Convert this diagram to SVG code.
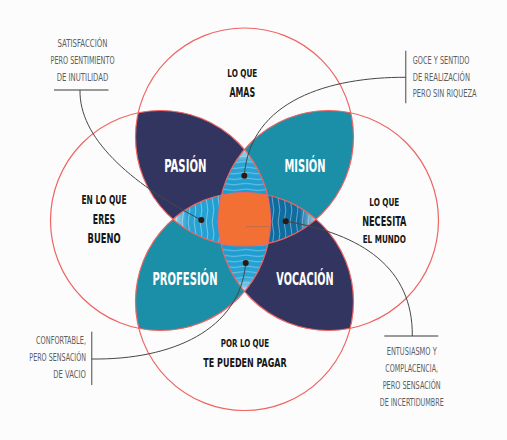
<svg xmlns="http://www.w3.org/2000/svg" width="507" height="440" viewBox="0 0 507 440">
<style>
.ann{font-family:"DejaVu Sans Condensed","Liberation Sans Narrow","Liberation Sans",sans-serif;font-size:10.5px;fill:#5e5e5e;}
.lbl{font-family:"DejaVu Sans Condensed","Liberation Sans Narrow","Liberation Sans",sans-serif;font-weight:bold;fill:#161616;}
.pet{font-family:"DejaVu Sans Condensed","Liberation Sans Narrow","Liberation Sans",sans-serif;font-weight:bold;font-size:17px;fill:#ffffff;}
.ring{fill:none;stroke:#ef6462;stroke-width:1.2;}
.con{fill:none;stroke:#474747;stroke-width:1;}
.bar{fill:none;stroke:#7a7a7a;stroke-width:1.4;}
.dot{fill:#2b1a12;}
</style>
<defs>
<clipPath id="cT"><circle cx="244.5" cy="137" r="109"/></clipPath>
<clipPath id="cB"><circle cx="244.5" cy="301.5" r="109"/></clipPath>
<clipPath id="cL"><circle cx="160.5" cy="220.5" r="110"/></clipPath>
<clipPath id="cR"><circle cx="328.5" cy="220.5" r="110"/></clipPath>
<linearGradient id="gV" gradientUnits="userSpaceOnUse" x1="0" y1="149" x2="0" y2="292">
<stop offset="0" stop-color="#b4def0"/><stop offset="0.1" stop-color="#2ba5d6"/><stop offset="0.3" stop-color="#1d9ccf"/><stop offset="0.7" stop-color="#1d9ccf"/><stop offset="0.9" stop-color="#2ba5d6"/><stop offset="1" stop-color="#b4def0"/>
</linearGradient>
<linearGradient id="gH" gradientUnits="userSpaceOnUse" x1="173" y1="0" x2="316" y2="0">
<stop offset="0" stop-color="#b0dcef"/><stop offset="0.1" stop-color="#2aa4d5"/><stop offset="0.4" stop-color="#1e9ccf"/><stop offset="0.6" stop-color="#0f6c9f"/><stop offset="0.88" stop-color="#0f6c9f"/><stop offset="1" stop-color="#9fd0e8"/>
</linearGradient>
<pattern id="wH" patternUnits="userSpaceOnUse" width="24" height="5.5">
<path d="M0,2.7 Q6,1.2 12,2.7 T24,2.7" fill="none" stroke="#ffffff" stroke-opacity="0.55" stroke-width="0.7"/>
</pattern>
<pattern id="wV" patternUnits="userSpaceOnUse" width="6" height="24">
<path d="M3,0 Q1.3,6 3,12 T3,24" fill="none" stroke="#ffffff" stroke-opacity="0.55" stroke-width="0.7"/>
</pattern>
</defs>
<rect width="507" height="440" fill="#fcfcfc"/>

<g id="petal-pasion" clip-path="url(#cT)"><circle cx="160.5" cy="220.5" r="110" fill="#313560"/></g>
<g id="petal-mision" clip-path="url(#cT)"><circle cx="328.5" cy="220.5" r="110" fill="#1a8fa7"/></g>
<g id="petal-profesion" clip-path="url(#cB)"><circle cx="160.5" cy="220.5" r="110" fill="#1a8fa7"/></g>
<g id="petal-vocacion" clip-path="url(#cB)"><circle cx="328.5" cy="220.5" r="110" fill="#313560"/></g>

<g id="lens-vertical" clip-path="url(#cL)"><g clip-path="url(#cR)">
<rect x="200" y="140" width="90" height="160" fill="url(#gV)"/>
<rect x="200" y="140" width="90" height="160" fill="url(#wH)"/>
</g></g>
<g id="lens-horizontal" clip-path="url(#cT)"><g clip-path="url(#cB)">
<rect x="165" y="180" width="160" height="80" fill="url(#gH)"/>
<rect x="165" y="180" width="160" height="80" fill="url(#wV)"/>
</g></g>
<g id="center" clip-path="url(#cT)"><g clip-path="url(#cB)"><g clip-path="url(#cL)"><g clip-path="url(#cR)">
<rect x="200" y="180" width="90" height="80" fill="#f37035"/>
</g></g></g></g>

<g id="circles">
<circle class="ring" cx="244.5" cy="137" r="109"/>
<circle class="ring" cx="244.5" cy="301.5" r="109"/>
<circle class="ring" cx="160.5" cy="220.5" r="110"/>
<circle class="ring" cx="328.5" cy="220.5" r="110"/>
</g>

<g id="connectors">
<line x1="246" y1="226.7" x2="269" y2="226.7" stroke="#8c6a5a" stroke-width="0.8" stroke-opacity="0.7"/>
<line class="bar" x1="54" y1="90" x2="108.5" y2="90"/>
<path class="con" d="M80,90 C79,137 128,182 201.3,220"/>
<line class="bar" x1="405.7" y1="50.7" x2="405.7" y2="103.3"/>
<path class="con" d="M405.7,77.3 C330,77 250,100 244.3,175.7"/>
<line class="bar" x1="91.7" y1="331.7" x2="91.7" y2="385"/>
<path class="con" d="M91.7,359 C172,360 240,330 245.7,263"/>
<line class="bar" x1="384.3" y1="336" x2="438.3" y2="336"/>
<path class="con" d="M412.3,336 C413,268 362,234 285.7,221.3"/>
</g>

<g id="dots">
<circle class="dot" cx="244.3" cy="175.7" r="3"/>
<circle class="dot" cx="201.3" cy="220" r="3"/>
<circle class="dot" cx="285.7" cy="221.3" r="3"/>
<circle class="dot" cx="245.7" cy="263" r="3"/>
</g>

<g id="node-pasion"><text class="pet" x="185.3" y="171.5" text-anchor="middle" textLength="42.3" lengthAdjust="spacingAndGlyphs">PASIÓN</text></g>
<g id="node-mision"><text class="pet" x="305" y="171.5" text-anchor="middle" textLength="41" lengthAdjust="spacingAndGlyphs">MISIÓN</text></g>
<g id="node-profesion"><text class="pet" x="185" y="284.5" text-anchor="middle" textLength="65" lengthAdjust="spacingAndGlyphs">PROFESIÓN</text></g>
<g id="node-vocacion"><text class="pet" x="305" y="284.5" text-anchor="middle" textLength="57.3" lengthAdjust="spacingAndGlyphs">VOCACIÓN</text></g>

<g id="node-amas">
<text class="lbl" x="242.3" y="76.7" font-size="11" text-anchor="middle" textLength="30" lengthAdjust="spacingAndGlyphs">LO QUE</text>
<text class="lbl" x="242.3" y="96.7" font-size="14" text-anchor="middle" textLength="25.7" lengthAdjust="spacingAndGlyphs">AMAS</text>
</g>
<g id="node-bueno">
<text class="lbl" x="104" y="203.5" font-size="11.5" text-anchor="middle" textLength="45" lengthAdjust="spacingAndGlyphs">EN LO QUE</text>
<text class="lbl" x="104" y="224" font-size="13.5" text-anchor="middle" textLength="22.3" lengthAdjust="spacingAndGlyphs">ERES</text>
<text class="lbl" x="104" y="243.3" font-size="13.5" text-anchor="middle" textLength="33" lengthAdjust="spacingAndGlyphs">BUENO</text>
</g>
<g id="node-mundo">
<text class="lbl" x="384.3" y="206" font-size="11" text-anchor="middle" textLength="30" lengthAdjust="spacingAndGlyphs">LO QUE</text>
<text class="lbl" x="384.3" y="226.3" font-size="14" text-anchor="middle" textLength="44.3" lengthAdjust="spacingAndGlyphs">NECESITA</text>
<text class="lbl" x="384.3" y="243" font-size="11" text-anchor="middle" textLength="43.3" lengthAdjust="spacingAndGlyphs">EL MUNDO</text>
</g>
<g id="node-pagar">
<text class="lbl" x="245" y="346.7" font-size="11" text-anchor="middle" textLength="48.3" lengthAdjust="spacingAndGlyphs">POR LO QUE</text>
<text class="lbl" x="245" y="366.8" font-size="12.5" text-anchor="middle" textLength="83.3" lengthAdjust="spacingAndGlyphs">TE PUEDEN PAGAR</text>
</g>

<g id="note-top-left">
<text class="ann" x="82.5" y="47.3" text-anchor="middle" textLength="50" lengthAdjust="spacingAndGlyphs">SATISFACCIÓN</text>
<text class="ann" x="82.5" y="64" text-anchor="middle" textLength="64" lengthAdjust="spacingAndGlyphs">PERO SENTIMIENTO</text>
<text class="ann" x="82.5" y="80.7" text-anchor="middle" textLength="51.7" lengthAdjust="spacingAndGlyphs">DE INUTILIDAD</text>
</g>
<g id="note-top-right">
<text class="ann" x="412.7" y="64" textLength="56.7" lengthAdjust="spacingAndGlyphs">GOCE Y SENTIDO</text>
<text class="ann" x="412.7" y="80.7" textLength="57.3" lengthAdjust="spacingAndGlyphs">DE REALIZACIÓN</text>
<text class="ann" x="412.7" y="97.3" textLength="64" lengthAdjust="spacingAndGlyphs">PERO SIN RIQUEZA</text>
</g>
<g id="note-bottom-left">
<text class="ann" x="86" y="344" text-anchor="end" textLength="50" lengthAdjust="spacingAndGlyphs">CONFORTABLE,</text>
<text class="ann" x="86" y="361.3" text-anchor="end" textLength="56.7" lengthAdjust="spacingAndGlyphs">PERO SENSACIÓN</text>
<text class="ann" x="86" y="378.3" text-anchor="end" textLength="32.7" lengthAdjust="spacingAndGlyphs">DE VACIO</text>
</g>
<g id="note-bottom-right">
<text class="ann" x="411.7" y="355" text-anchor="middle" textLength="50" lengthAdjust="spacingAndGlyphs">ENTUSIASMO Y</text>
<text class="ann" x="411.7" y="372.3" text-anchor="middle" textLength="52.7" lengthAdjust="spacingAndGlyphs">COMPLACENCIA,</text>
<text class="ann" x="411.7" y="389" text-anchor="middle" textLength="58" lengthAdjust="spacingAndGlyphs">PERO SENSACIÓN</text>
<text class="ann" x="411.7" y="405.7" text-anchor="middle" textLength="64" lengthAdjust="spacingAndGlyphs">DE INCERTIDUMBRE</text>
</g>
</svg>
